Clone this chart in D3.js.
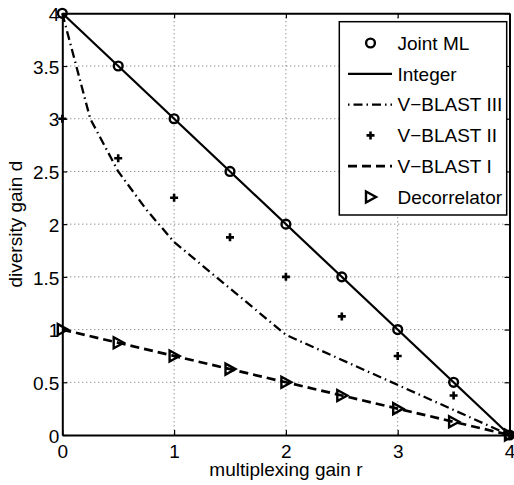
<!DOCTYPE html>
<html>
<head>
<meta charset="utf-8">
<script src="https://cdn.jsdelivr.net/npm/d3@7/dist/d3.min.js"></script>
<style>
  html, body { margin: 0; padding: 0; background: #fff; }
  svg { display: block; font-family: "Liberation Sans", Arial, Helvetica, sans-serif; }
</style>
</head>
<body>
<svg id="chart" width="514" height="485"></svg>
<script>
// multiplexing gain r samples used by the marker series
const rGrid = [0, 0.5, 1, 1.5, 2, 2.5, 3, 3.5, 4];

// Joint ML (circles) and the integer tradeoff (solid line)
const jointML = [4, 3.5, 3, 2.5, 2, 1.5, 1, 0.5, 0];
const integerR = [0, 4];
const integerD = [4, 0];

// V-BLAST III (dash-dot curve)
const vb3R = [0, 0.25, 0.5, 0.75, 1, 2, 4];
const vb3D = [4, 3.0, 2.5, 2.14, 1.83, 0.95, 0];

// V-BLAST II (plus markers)
const vb2D = [3, 2.625, 2.25, 1.875, 1.5, 1.125, 0.75, 0.375, 0];

// V-BLAST I (dashed line) and Decorrelator (triangles)
const vb1D = [1, 0.875, 0.75, 0.625, 0.5, 0.375, 0.25, 0.125, 0];
const decorrD = [1, 0.875, 0.75, 0.625, 0.5, 0.375, 0.25, 0.125, 0];

// axis ticks
const xTicks = [0, 1, 2, 3, 4];
const yTicks = [0, 0.5, 1, 1.5, 2, 2.5, 3, 3.5, 4];
const yTickLabels = ["0", "0.5", "1", "1.5", "2", "2.5", "3", "3.5", "4"];

const legendNames = ["Joint ML", "Integer", "V\u2212BLAST III", "V\u2212BLAST II", "V\u2212BLAST I", "Decorrelator"];

const svg = d3.select("#chart");
const pLeft = 62.3, pRight = 509.5, pTop = 13.3, pBottom = 435;
const x = d3.scaleLinear().domain([0, 4]).range([pLeft, pRight]);
const y = d3.scaleLinear().domain([0, 4]).range([pBottom, pTop]);
const FS = 19;

// dotted grid
const grid = svg.append("g").attr("stroke", "#666").attr("stroke-width", 1)
  .attr("stroke-dasharray", "1,3");
xTicks.slice(1, -1).forEach(t => grid.append("line")
  .attr("x1", x(t)).attr("x2", x(t)).attr("y1", pTop).attr("y2", pBottom));
yTicks.slice(1, -1).forEach(t => grid.append("line")
  .attr("x1", pLeft).attr("x2", pRight).attr("y1", y(t)).attr("y2", y(t)));

// axes with inward ticks, boxed on all four sides
const tickLen = 5;
const axB = svg.append("g").attr("transform", `translate(0,${pBottom})`)
  .call(d3.axisBottom(x).tickValues(xTicks).tickSizeInner(-tickLen).tickSizeOuter(0).tickPadding(10).tickFormat(d3.format("d")));
const axT = svg.append("g").attr("transform", `translate(0,${pTop})`)
  .call(d3.axisTop(x).tickValues(xTicks).tickSizeInner(-tickLen).tickSizeOuter(0).tickFormat(""));
const axL = svg.append("g").attr("transform", `translate(${pLeft},0)`)
  .call(d3.axisLeft(y).tickValues(yTicks).tickSizeInner(-tickLen).tickSizeOuter(0).tickPadding(3)
    .tickFormat((d, i) => yTickLabels[i]));
const axR = svg.append("g").attr("transform", `translate(${pRight},0)`)
  .call(d3.axisRight(y).tickValues(yTicks).tickSizeInner(-tickLen).tickSizeOuter(0).tickFormat(""));
[axB, axT, axL, axR].forEach(a => {
  a.select(".domain").attr("stroke", "#000").attr("stroke-width", 2);
  a.selectAll(".tick line").attr("stroke", "#000").attr("stroke-width", 1.2);
  a.selectAll("text").attr("font-size", FS).attr("fill", "#000")
    .attr("font-family", "Liberation Sans, Arial, sans-serif");
});
axL.selectAll("text").attr("dy", "0.38em");
axB.selectAll("text").attr("dy", "0.66em");

// axis titles
svg.append("text").attr("x", (pLeft + pRight) / 2).attr("y", 476)
  .attr("text-anchor", "middle").attr("font-size", FS).text("multiplexing gain r");
svg.append("text").attr("transform", `translate(22,${(pTop + pBottom) / 2}) rotate(-90)`)
  .attr("text-anchor", "middle").attr("font-size", FS).text("diversity gain d");

const plot = svg.append("g");
const line = d3.line().x(d => x(d[0])).y(d => y(d[1]));

// integer tradeoff
plot.append("path").datum(d3.zip(integerR, integerD)).attr("d", line)
  .attr("fill", "none").attr("stroke", "#000").attr("stroke-width", 2.2);
// V-BLAST III
plot.append("path").datum(d3.zip(vb3R, vb3D)).attr("d", line)
  .attr("fill", "none").attr("stroke", "#000").attr("stroke-width", 2.3)
  .attr("stroke-dasharray", "9,4,1.5,4");
// V-BLAST I
plot.append("path").datum(d3.zip(rGrid, vb1D)).attr("d", line)
  .attr("fill", "none").attr("stroke", "#000").attr("stroke-width", 2.7)
  .attr("stroke-dasharray", "9,5");

// marker shapes
function circleMark(g, cx, cy) {
  g.append("circle").attr("cx", cx).attr("cy", cy).attr("r", 4.4)
    .attr("fill", "none").attr("stroke", "#000").attr("stroke-width", 2.4);
}
function plusMark(g, cx, cy) {
  g.append("path").attr("d", `M${cx - 4},${cy}H${cx + 4}M${cx},${cy - 4}V${cy + 4}`)
    .attr("stroke", "#000").attr("stroke-width", 2.6);
}
function triMark(g, cx, cy) {
  g.append("path").attr("d", `M${cx - 4.5},${cy - 5.5}L${cx + 5.5},${cy}L${cx - 4.5},${cy + 5.5}Z`)
    .attr("fill", "none").attr("stroke", "#000").attr("stroke-width", 2.4).attr("stroke-linejoin", "miter");
}

rGrid.forEach((r, i) => circleMark(plot, x(r), y(jointML[i])));
rGrid.forEach((r, i) => plusMark(plot, x(r), y(vb2D[i])));
rGrid.forEach((r, i) => triMark(plot, x(r), y(decorrD[i])));

// legend
const lg = svg.append("g");
const lx0 = 339.3, ly0 = 21.7, lx1 = 506.7, ly1 = 215;
lg.append("rect").attr("x", lx0).attr("y", ly0).attr("width", lx1 - lx0).attr("height", ly1 - ly0)
  .attr("fill", "#fff").attr("stroke", "#000").attr("stroke-width", 1.5);
const rowY = i => 43 + i * 30.8;
const sx0 = 348, sx1 = 392, smid = 370.5, tx = 397.5;
legendNames.forEach((name, i) => {
  const yy = rowY(i);
  lg.append("text").attr("x", tx).attr("y", yy).attr("dy", "0.36em")
    .attr("font-size", FS).text(name);
});
circleMark(lg, smid, rowY(0));
lg.append("line").attr("x1", sx0).attr("x2", sx1).attr("y1", rowY(1)).attr("y2", rowY(1))
  .attr("stroke", "#000").attr("stroke-width", 2.2);
lg.append("line").attr("x1", sx0).attr("x2", sx1).attr("y1", rowY(2)).attr("y2", rowY(2))
  .attr("stroke", "#000").attr("stroke-width", 2.3).attr("stroke-dasharray", "1.5,4,9,4");
plusMark(lg, smid, rowY(3));
lg.append("line").attr("x1", sx0).attr("x2", sx1).attr("y1", rowY(4)).attr("y2", rowY(4))
  .attr("stroke", "#000").attr("stroke-width", 2.7).attr("stroke-dasharray", "9,5");
triMark(lg, smid, rowY(5));
</script>
</body>
</html>
